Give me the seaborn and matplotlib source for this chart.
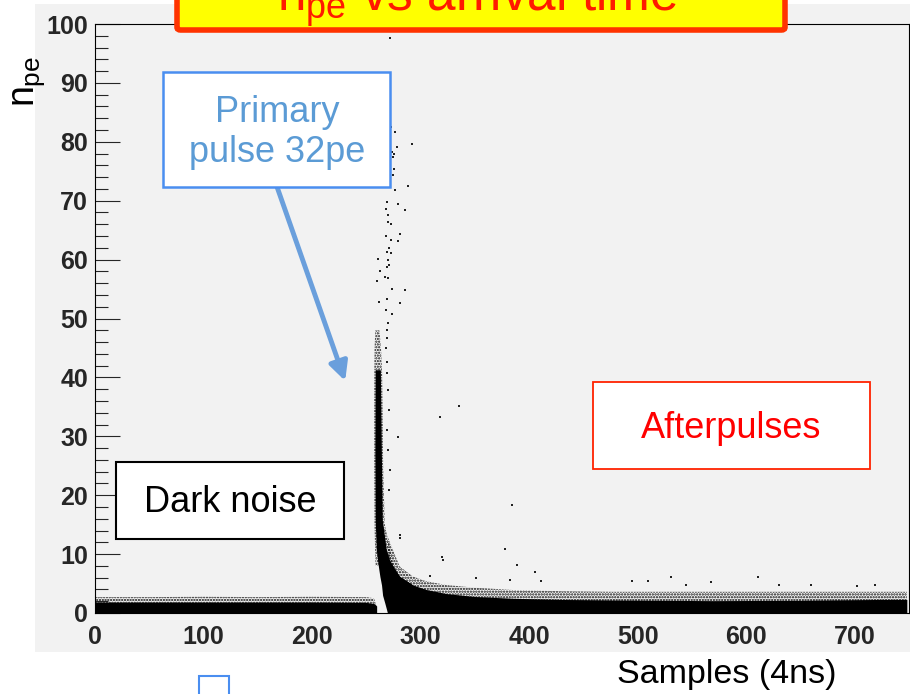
import matplotlib
matplotlib.use("Agg")
import matplotlib.pyplot as plt
import seaborn as sns
from matplotlib.patches import Rectangle, FancyBboxPatch
from matplotlib.ticker import MultipleLocator

sns.set_style("white")
plt.rcParams["font.family"] = ["Liberation Sans", "DejaVu Sans"]
plt.rcParams["mathtext.fontset"] = "custom"
plt.rcParams["mathtext.rm"] = "Liberation Sans"
plt.rcParams["mathtext.it"] = "Liberation Sans"
plt.rcParams["mathtext.bf"] = "Liberation Sans:bold"
plt.rcParams["hatch.linewidth"] = 1.1

# ---- data (samples of 4 ns, number of photo-electrons) ----
# dark-noise band before the primary pulse
noise_x = [0, 50, 100, 150, 200, 250, 257, 259.5]
noise_core = [1.85, 1.85, 1.85, 1.85, 1.85, 1.8, 1.6, 1.2]
noise_speck = [2.7, 2.7, 2.75, 2.7, 2.75, 2.7, 2.5, 1.2]

# primary pulse column: left/right edge for each n_pe level
spike_y = [0, 1.7, 3.0, 4.75, 6.2, 7.3, 9.0, 10.7, 15.8, 27.7, 41.3]
spike_left = [269.5, 267, 265, 264, 262.5, 261.6, 260.3, 259.2, 258.2, 257.9, 258.2]
spike_right = [270, 280, 293, 293, 280.7, 276, 271.4, 268.4, 264.7, 263.8, 262.9]
spike_speck_y = [8, 15, 25, 35, 41, 45, 48]
spike_speck_left = [258.5, 257.5, 257.2, 257.2, 257.3, 257.6, 258.3]
spike_speck_right = [275, 267, 265.5, 265, 264.5, 263.5, 262]

# afterpulse tail
tail_x = [269.5, 280.7, 292.9, 305, 323.6, 350, 384.7, 430, 476.7, 568.7, 650, 722, 748]
tail_core = [9.5, 6.2, 4.75, 4.0, 3.3, 2.8, 2.5, 2.3, 2.2, 2.1, 2.15, 2.3, 2.3]
tail_speck = [13, 7.9, 6.2, 5.4, 4.75, 4.3, 3.9, 3.7, 3.6, 3.6, 3.6, 3.6, 3.6]

# isolated large-amplitude hits
out_x = [271.5, 272.4, 276.1, 291.7, 277.9, 273.3, 275.1, 274.2, 275.1, 274.2,
         288.0, 276.1, 268.7, 278.8, 285.3, 267.8, 269.6, 269.6, 272.4, 267.8,
         280.7, 272.4, 278.8, 270.5, 268.7, 272.4, 260.4, 269.6, 270.5, 262.3,
         268.7, 266.9, 259.5, 269.6, 273.3, 285.3, 261.3, 268.7, 280.7, 267.8,
         273.3, 269.6, 268.7, 268.7, 267.8, 268.7, 268.7, 269.6, 270.5, 268.7,
         269.6, 271.5, 270.5, 278.8, 317.5, 335.0, 280.7, 320.0,
         384.0, 377.5, 320.9, 388.5, 405.0, 382.5, 411.3, 494.4, 509.2, 530.7,
         567.5, 611.3, 630.3, 659.5, 702.4, 718.4, 544.4, 351.2, 308.3, 281.2]
out_y = [97.6, 82.5, 81.7, 79.6, 79.1, 78.3, 77.9, 77.4, 75.4, 74.4,
         72.5, 71.8, 69.8, 69.4, 68.4, 68.6, 67.6, 66.4, 66.0, 64.0,
         64.3, 63.3, 63.2, 62.0, 61.3, 61.1, 60.1, 59.9, 59.1, 58.1,
         58.7, 57.0, 56.4, 56.9, 55.0, 54.8, 52.8, 53.3, 52.6, 51.4,
         50.8, 49.2, 48.0, 46.7, 45.0, 42.6, 40.7, 37.9, 34.5, 31.1,
         27.7, 24.3, 20.9, 29.9, 33.3, 35.1, 13.2, 9.5,
         18.4, 10.9, 9.0, 8.2, 7.0, 5.6, 5.4, 5.4, 5.4, 6.1,
         5.3, 6.1, 4.7, 4.7, 4.5, 4.7, 4.7, 5.9, 6.2, 12.7]

y_ticks = [0, 10, 20, 30, 40, 50, 60, 70, 80, 90, 100]
x_ticks = [0, 100, 200, 300, 400, 500, 600, 700]

W, H = 910, 694
GRAY = "#f2f2f2"


def fx(px):
    return px / W


def fy(py):
    return 1 - py / H


fig = plt.figure(figsize=(W / 100, H / 100), dpi=100)
fig.patch.set_facecolor("white")
fig.add_artist(Rectangle((fx(35), fy(652)), 1 - fx(35), fy(4) - fy(652),
                         transform=fig.transFigure, facecolor=GRAY,
                         edgecolor="none", zorder=0))

ax = fig.add_axes([fx(95), fy(613), fx(909) - fx(95), fy(24) - fy(613)])
ax.set_facecolor(GRAY)
ax.set_xlim(0, 750)
ax.set_ylim(0, 100)

# speckled outer envelope of the hit cloud
hatch_kw = dict(facecolor="none", edgecolor="#111111", linewidth=0, hatch="......")
ax.fill_between(noise_x, 0, noise_speck, **hatch_kw)
ax.fill_between(tail_x, 0, tail_speck, **hatch_kw)
ax.fill_betweenx(spike_speck_y, spike_speck_left, spike_speck_right, **hatch_kw)

# dense core of the hit cloud
ax.fill_between(noise_x, 0, noise_core, color="black", linewidth=0)
ax.fill_between(tail_x, 0, tail_core, color="black", linewidth=0)
ax.fill_betweenx(spike_y, spike_left, spike_right, color="black", linewidth=0)

sns.scatterplot(x=out_x, y=out_y, ax=ax, color="#222222", s=1.6, marker="s",
                linewidth=0, legend=False)

for side in ["left", "top", "bottom", "right"]:
    ax.spines[side].set_visible(True)
    ax.spines[side].set_color("black")
    ax.spines[side].set_linewidth(0.8)

ax.set_yticks(y_ticks, [str(v) for v in y_ticks], fontweight="bold", fontsize=18)
ax.set_xticks(x_ticks, [str(v) for v in x_ticks], fontweight="bold", fontsize=18)
ax.yaxis.set_minor_locator(MultipleLocator(2))
ax.tick_params(axis="y", which="major", direction="in", length=18, width=0.8,
               pad=5, left=True)
ax.tick_params(axis="y", which="minor", direction="in", length=9, width=0.8,
               left=True)
ax.tick_params(axis="x", which="both", length=0, pad=9)
ax.set_xlabel("")
ax.set_ylabel("")

# axis titles
fig.text(fx(617), fy(683), "Samples (4ns)", fontsize=24.5, ha="left",
         va="baseline", color="black")
fig.text(fx(29), fy(82), r"$n_{pe}$", fontsize=27, rotation=90,
         ha="center", va="center", color="black")

# title banner (runs past the top edge of the canvas)
fig.add_artist(FancyBboxPatch((fx(177), fy(30)), fx(785) - fx(177), fy(-40) - fy(30),
                              boxstyle="round,pad=0,rounding_size=0.004",
                              transform=fig.transFigure, facecolor="#ffff00",
                              edgecolor="#ff3300", linewidth=4, zorder=5))
fig.text(fx(277), fy(11), r"$n_{pe}$ vs arrival time", fontsize=37,
         color="#ff1a00", ha="left", va="baseline", zorder=6)


def label_box(x0, y0, x1, y1, edge, lw):
    fig.add_artist(Rectangle((fx(x0), fy(y1)), fx(x1) - fx(x0), fy(y0) - fy(y1),
                             transform=fig.transFigure, facecolor="white",
                             edgecolor=edge, linewidth=lw, zorder=5))


label_box(163, 72, 390, 187, "#4a8ef0", 1.8)
fig.text(fx(277), fy(122), "Primary", fontsize=26, color="#5b9bd5",
         ha="center", va="baseline", zorder=6)
fig.text(fx(277), fy(162), "pulse 32pe", fontsize=26, color="#5b9bd5",
         ha="center", va="baseline", zorder=6)

label_box(593, 382, 870, 469, "#ff2200", 1.3)
fig.text(fx(731.5), fy(438), "Afterpulses", fontsize=26, color="#ff0000",
         ha="center", va="baseline", zorder=6)

label_box(116, 462, 344, 539, "black", 1.5)
fig.text(fx(230), fy(512), "Dark noise", fontsize=26, color="black",
         ha="center", va="baseline", zorder=6)

label_box(199, 676, 229, 700, "#4a8ef0", 1.5)

ax.annotate("", xy=(230.5, 39.4), xytext=(167.8, 72.3),
            arrowprops=dict(arrowstyle="-|>", color="#6a9fdc", lw=3.5,
                            mutation_scale=28, shrinkA=0, shrinkB=0),
            annotation_clip=False, zorder=7)

fig.savefig("out.png", dpi=100, facecolor=fig.get_facecolor())
